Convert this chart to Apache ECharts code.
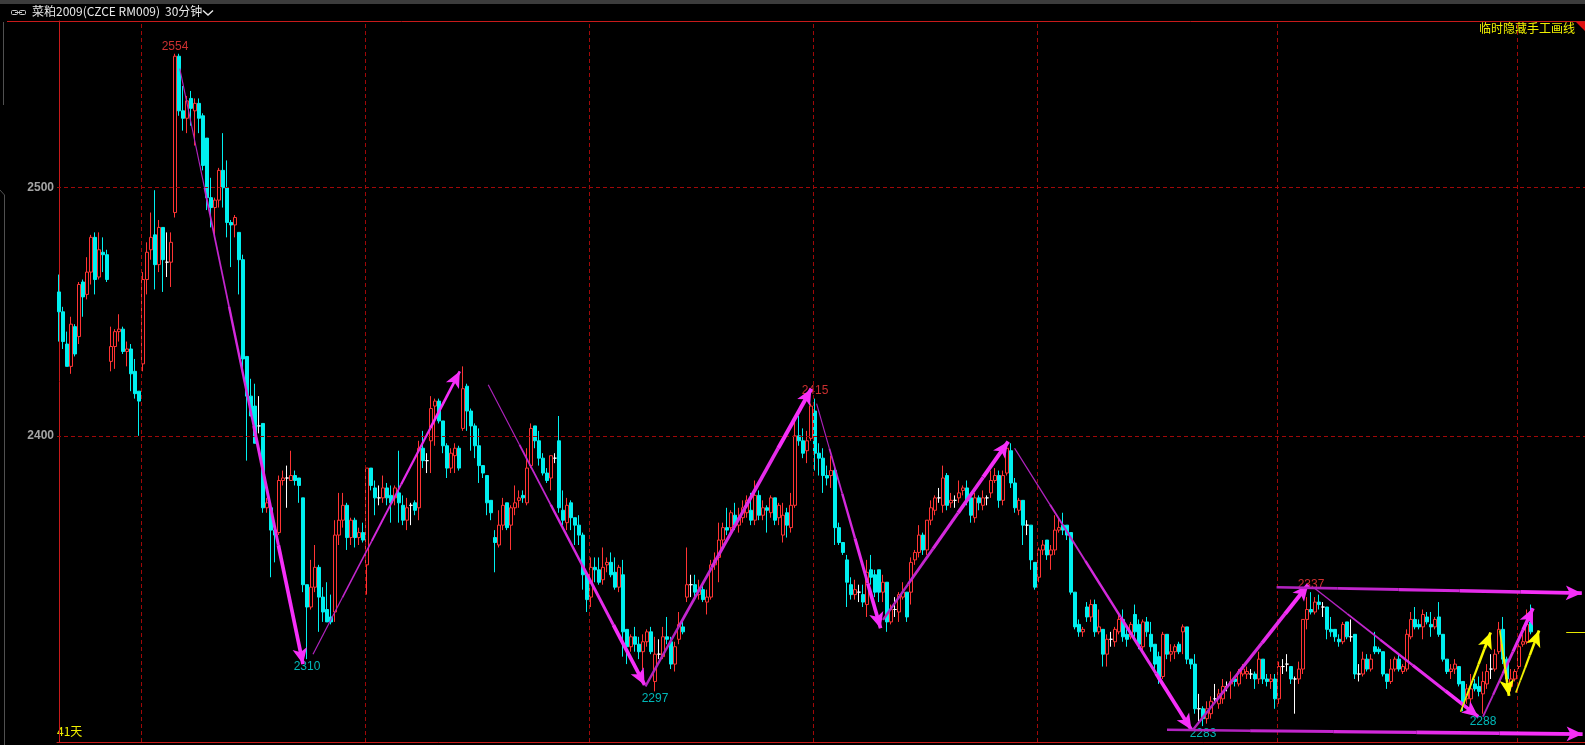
<!DOCTYPE html>
<html><head><meta charset="utf-8">
<script src="https://cdn.jsdelivr.net/npm/echarts@6/dist/echarts.min.js"></script>
<style>html,body{margin:0;padding:0;background:#000;overflow:hidden}#c{width:1585px;height:745px}</style>
</head><body><div id="c"></div>
<script>
// ---- candle values (30-minute bars, 菜粕2009) ----
const OPEN = [2458,2450,2437,2428,2444,2440,2462,2457,2466,2480,2464,2474,2473,2430,2436,2442,2443,2434,2435,2426,2418,2429,2463,2475,2481,2469,2484,2470,2470,2490,
2553,2531,2528,2536,2531,2534,2529,2520,2496,2492,2495,2507,2500,2486,2485,2482,2471,2432,2416,2412,2404,2405,2371,2371,2362,2361,2382,2383,2382,2384,
2383,2375,2340,2331,2339,2347,2335,2330,2327,2329,2360,2366,2372,2359,2366,2359,2361,2348,2387,2379,2375,2375,2379,2376,2375,2377,2372,2366,2372,2373,
2371,2395,2390,2398,2412,2414,2406,2396,2387,2392,2395,2403,2420,2410,2404,2396,2388,2384,2374,2359,2356,2364,2373,2364,2371,2374,2376,2373,2388,2404,
2398,2391,2385,2383,2391,2398,2370,2365,2373,2367,2364,2360,2344,2335,2347,2346,2342,2348,2349,2345,2339,2344,2322,2315,2319,2316,2313,2317,2321,2301,
2312,2311,2319,2317,2308,2318,2323,2335,2340,2340,2336,2338,2333,2335,2348,2351,2358,2363,2363,2368,2364,2367,2369,2370,2366,2376,2368,2371,2369,2375,
2367,2360,2369,2363,2372,2400,2398,2394,2399,2410,2393,2391,2384,2384,2386,2363,2357,2350,2340,2336,2337,2336,2332,2346,2344,2346,2337,2341,2325,2330,
2329,2335,2337,2337,2350,2353,2360,2354,2366,2370,2375,2372,2384,2373,2374,2375,2378,2379,2375,2367,2375,2372,2375,2377,2382,2384,2374,2385,2394,2381,
2370,2374,2364,2364,2349,2343,2354,2358,2352,2354,2362,2364,2364,2361,2337,2324,2321,2331,2327,2332,2321,2322,2312,2318,2317,2321,2326,2320,2319,2328,
2324,2315,2325,2320,2316,2311,2303,2320,2312,2313,2316,2321,2323,2310,2308,2290,2290,2286,2288,2294,2292,2294,2299,2300,2302,2300,2304,2304,2304,2304,
2302,2310,2302,2301,2302,2294,2307,2308,2307,2302,2302,2306,2326,2330,2329,2333,2331,2331,2322,2322,2318,2317,2325,2319,2320,2304,2304,2310,2306,2315,
2314,2313,2304,2301,2306,2310,2305,2306,2319,2326,2324,2323,2327,2324,2323,2327,2320,2310,2305,2306,2307,2301,2294,2294,2300,2299,2296,2300,2306,2306,
2313,2322,2310,2299,2302,2307,2316,2317,2325];
const CLOSE = [2450,2438,2428,2445,2433,2461,2456,2466,2480,2463,2475,2473,2463,2436,2442,2443,2434,2435,2425,2417,2414,2463,2474,2480,2469,2484,2471,2470,2478,2553,
2531,2528,2535,2532,2534,2528,2509,2496,2492,2495,2507,2500,2486,2485,2488,2471,2431,2416,2408,2397,2404,2371,2373,2362,2360,2382,2383,2383,2384,2382,
2380,2340,2331,2339,2347,2335,2329,2325,2325,2360,2366,2372,2359,2366,2359,2361,2358,2387,2380,2375,2375,2379,2375,2373,2379,2373,2366,2371,2372,2370,
2395,2390,2390,2411,2414,2406,2396,2387,2393,2395,2387,2419,2410,2404,2396,2388,2385,2373,2369,2357,2364,2372,2363,2371,2373,2375,2375,2387,2403,2398,
2391,2385,2382,2392,2391,2371,2366,2372,2367,2364,2360,2344,2334,2347,2346,2341,2347,2349,2344,2339,2347,2321,2315,2319,2316,2313,2317,2321,2313,2312,
2312,2319,2318,2308,2315,2324,2321,2340,2340,2337,2338,2334,2335,2348,2350,2358,2363,2362,2369,2364,2367,2371,2374,2366,2376,2368,2371,2370,2375,2366,
2372,2368,2364,2372,2400,2398,2393,2398,2412,2393,2391,2384,2383,2386,2363,2357,2353,2341,2336,2338,2337,2333,2345,2343,2337,2337,2341,2325,2330,2330,
2336,2337,2327,2349,2353,2360,2354,2366,2371,2375,2375,2383,2372,2374,2374,2377,2379,2374,2368,2375,2373,2375,2375,2382,2384,2374,2384,2395,2381,2371,
2374,2364,2364,2350,2339,2354,2356,2352,2354,2362,2363,2362,2360,2337,2323,2321,2322,2327,2332,2321,2323,2312,2318,2318,2322,2326,2319,2318,2324,2321,
2316,2325,2321,2315,2308,2302,2320,2312,2313,2315,2313,2323,2310,2308,2290,2290,2286,2290,2293,2294,2296,2299,2299,2301,2301,2305,2306,2305,2304,2302,
2310,2302,2301,2302,2294,2307,2307,2308,2302,2302,2306,2326,2330,2329,2333,2332,2331,2322,2321,2319,2317,2324,2319,2319,2304,2304,2310,2306,2310,2313,
2313,2304,2301,2306,2310,2306,2307,2320,2326,2323,2323,2328,2325,2323,2326,2320,2310,2305,2306,2308,2300,2292,2298,2298,2298,2297,2301,2305,2306,2312,
2322,2310,2302,2302,2305,2315,2317,2324,2321];
const LOW = [2438,2435,2428,2425,2432,2437,2448,2455,2461,2457,2463,2466,2462,2426,2427,2438,2433,2428,2418,2415,2400,2426,2457,2471,2459,2466,2458,2464,2460,2488,
2529,2523,2522,2525,2517,2522,2507,2491,2484,2481,2492,2492,2480,2468,2480,2457,2425,2390,2408,2397,2401,2369,2369,2343,2349,2360,2380,2371,2382,2380,
2373,2337,2310,2330,2337,2321,2325,2325,2324,2325,2356,2363,2354,2356,2355,2356,2357,2336,2378,2368,2372,2373,2372,2365,2372,2365,2364,2362,2364,2368,
2366,2387,2385,2385,2396,2405,2393,2383,2385,2385,2386,2402,2402,2394,2391,2381,2383,2368,2366,2345,2355,2362,2362,2354,2368,2371,2373,2372,2387,2395,
2388,2384,2381,2378,2389,2369,2364,2362,2362,2356,2356,2338,2329,2331,2341,2340,2340,2345,2343,2338,2337,2311,2308,2313,2313,2310,2306,2315,2312,2297,
2310,2310,2316,2306,2305,2316,2320,2333,2335,2335,2334,2333,2328,2334,2346,2341,2356,2360,2361,2362,2361,2365,2367,2364,2364,2366,2366,2361,2367,2364,
2364,2357,2359,2361,2371,2396,2391,2389,2398,2386,2384,2377,2380,2379,2356,2356,2352,2331,2334,2334,2333,2331,2327,2340,2335,2333,2333,2321,2324,2327,
2325,2334,2325,2332,2348,2351,2352,2352,2364,2368,2373,2369,2370,2371,2371,2373,2376,2372,2365,2365,2370,2370,2372,2375,2381,2371,2372,2384,2379,2369,
2368,2356,2360,2346,2338,2341,2352,2350,2346,2352,2361,2360,2358,2336,2322,2319,2319,2325,2325,2319,2320,2307,2307,2315,2315,2320,2317,2315,2318,2319,
2314,2313,2319,2313,2306,2300,2302,2310,2309,2310,2312,2312,2308,2306,2288,2285,2283,2284,2286,2292,2290,2292,2297,2294,2299,2299,2303,2302,2302,2298,
2300,2300,2299,2298,2290,2292,2304,2305,2300,2288,2300,2304,2322,2328,2328,2330,2327,2318,2319,2317,2315,2316,2318,2317,2302,2301,2303,2305,2305,2312,
2312,2303,2298,2300,2305,2305,2304,2305,2318,2322,2322,2318,2324,2319,2322,2319,2309,2304,2302,2304,2299,2289,2292,2292,2297,2295,2288,2298,2302,2305,
2312,2308,2298,2297,2301,2306,2315,2316,2320];
const HIGH = [2465,2452,2442,2448,2445,2462,2463,2472,2481,2482,2482,2480,2475,2444,2443,2449,2444,2438,2437,2431,2418,2466,2478,2490,2499,2487,2484,2482,2482,2554,
2554,2541,2537,2539,2536,2536,2530,2520,2504,2496,2508,2522,2511,2487,2489,2482,2473,2432,2423,2421,2416,2405,2375,2371,2363,2384,2386,2388,2394,2386,
2383,2375,2340,2350,2356,2348,2339,2341,2336,2366,2377,2377,2373,2367,2367,2363,2365,2387,2387,2382,2380,2384,2381,2380,2380,2394,2376,2375,2373,2374,
2398,2402,2393,2416,2415,2415,2406,2397,2395,2397,2396,2428,2421,2411,2405,2403,2388,2384,2374,2362,2370,2375,2373,2372,2380,2378,2378,2395,2405,2404,
2402,2393,2387,2392,2393,2408,2378,2375,2374,2367,2368,2361,2344,2351,2351,2351,2355,2351,2353,2351,2348,2350,2322,2320,2323,2319,2320,2322,2323,2319,
2318,2323,2327,2319,2317,2329,2325,2355,2344,2344,2342,2340,2338,2350,2353,2365,2365,2371,2370,2373,2371,2374,2376,2377,2382,2378,2374,2372,2376,2375,
2373,2373,2371,2377,2408,2408,2403,2402,2413,2415,2397,2395,2388,2392,2388,2365,2357,2352,2343,2342,2340,2340,2350,2352,2346,2346,2344,2341,2332,2335,
2337,2341,2337,2351,2354,2364,2361,2366,2374,2376,2379,2388,2385,2377,2376,2382,2380,2382,2377,2377,2376,2378,2376,2386,2387,2386,2386,2396,2397,2383,
2375,2374,2366,2364,2349,2355,2358,2358,2356,2368,2367,2369,2364,2361,2337,2326,2323,2333,2334,2334,2330,2322,2320,2321,2323,2329,2330,2322,2325,2332,
2326,2326,2327,2325,2316,2313,2321,2320,2316,2316,2317,2324,2323,2310,2312,2296,2291,2293,2295,2300,2298,2302,2301,2305,2303,2306,2308,2307,2306,2305,
2313,2310,2304,2304,2304,2309,2310,2312,2307,2303,2309,2326,2335,2337,2335,2336,2333,2331,2327,2322,2320,2325,2325,2326,2320,2308,2313,2312,2312,2321,
2315,2313,2304,2310,2311,2312,2308,2322,2329,2331,2326,2330,2329,2329,2327,2333,2320,2310,2308,2310,2307,2301,2300,2304,2302,2303,2305,2308,2312,2314,
2325,2327,2311,2306,2306,2316,2320,2330,2332];

const TOTAL_SLOTS = 382;                 // bar slots on the time axis (data + blank right margin)
const Y_LABELS = [2400, 2500];
const DAY_BREAKS = [20.5, 76.5, 132.5, 188.5, 244.5, 304.5, 364.5];
// marked extremes: bar index, price, kind
const EXT_IDX  = [29, 62, 149, 189, 286, 313, 356];
const EXT_VAL  = [2554, 2310, 2297, 2415, 2283, 2337, 2288];
const EXT_KIND = ['high','low','low','high','low','high','low'];
// hand-drawn lines: [barIndex1, price1, barIndex2, price2]
const PINK_LINES = [
  [30.2,2548, 61.0,2308], [63.5,2312, 100.2,2426], [107.3,2420.6, 146.4,2299.6],
  [146.6,2299, 188.1,2419], [189.4,2413, 205.4,2322.4], [206.0,2325.8, 237.3,2397.7],
  [238.9,2395, 283.1,2281.5], [283.5,2281.5, 312.3,2340], [313.9,2338.6, 354.8,2286.8],
  [356.0,2286.8, 368.5,2330.5], [304.4,2339, 380.7,2336.6], [277.0,2281.5, 380.9,2279.8]
];
const YELLOW_LINES = [
  [350.4,2288.8, 357.9,2320.7], [360.2,2321.6, 362.5,2295.2], [364.2,2296.5, 370.0,2321.5]
];

// ---- styles ----
const PINK_W = [[0.8,4],[1,2.8],[0.8,4],[2.2,4.2],[0.8,4],[2.2,4.2],[1,4],[2.2,4.2],[1,3.8],[1.6,3.8],[2.4,4],[2.4,4]];
const YELLOW_W = [[1.4,3],[1.4,3],[1.4,3]];

function mix(c1, c2, t) {
  const a = [1,3,5].map(i => parseInt(c1.substr(i,2),16));
  const b = [1,3,5].map(i => parseInt(c2.substr(i,2),16));
  return 'rgb(' + a.map((v,k)=>Math.round(v+(b[k]-v)*t)).join(',') + ')';
}
function taper(line, w, c1, c2) {
  const [x1,y1,x2,y2] = line; const n = 5; const out = [];
  for (let k = 0; k < n; k++) {
    const t0 = k/n, t1 = (k+1)/n, tm = (k+0.5)/n;
    const ls = { color: mix(c1, c2, tm), width: w[0] + (w[1]-w[0])*tm, type: 'solid', opacity: 1 };
    out.push([
      { coord: [x1+(x2-x1)*t0, y1+(y2-y1)*t0], symbol: 'none', lineStyle: ls },
      { coord: [x1+(x2-x1)*t1, y1+(y2-y1)*t1], symbol: k === n-1 ? 'arrow' : 'none', lineStyle: ls }
    ]);
  }
  return out;
}

const cats = OPEN.map((_, i) => 'b' + i);
for (let i = OPEN.length; i < TOTAL_SLOTS; i++) cats.push('b' + i);
const candles = OPEN.map((o, i) => [o, CLOSE[i], LOW[i], HIGH[i]]);
const lastClose = CLOSE[CLOSE.length - 1];

const RED = '#ff3434', CYAN = '#00f0f0', FRAME = '#c81a1a', GRIDC = '#a00808';
let pinkSegs = []; PINK_LINES.forEach((l, i) => pinkSegs = pinkSegs.concat(taper(l, PINK_W[i], '#a822b8', '#ff30ff')));
let yelSegs = []; YELLOW_LINES.forEach((l, i) => yelSegs = yelSegs.concat(taper(l, YELLOW_W[i], '#e8e800', '#ffff00')));

const chart = echarts.init(document.getElementById('c'));
chart.setOption({
  backgroundColor: '#000',
  animation: false,
  grid: { left: 57, right: 0, top: 21, bottom: 3, containLabel: false },
  xAxis: [
    { type: 'category', data: cats, boundaryGap: true,
      axisLine: { show: true, lineStyle: { color: FRAME, width: 1 } },
      axisTick: { show: false }, axisLabel: { show: false }, splitLine: { show: false } },
    { type: 'value', min: -0.5, max: TOTAL_SLOTS - 0.5, show: false }
  ],
  yAxis: [{ type: 'value', min: 2276.6, max: 2567.2, scale: true,
    axisLine: { show: true, lineStyle: { color: FRAME, width: 1 } },
    axisTick: { show: false },
    axisLabel: { show: true, customValues: Y_LABELS, color: '#a4a4a4', fontWeight: 'bold',
      fontFamily: 'Liberation Sans', fontSize: 12, margin: 3, formatter: v => String(Math.round(v)) },
    splitLine: { show: false } }],
  series: [
    { type: 'line', xAxisIndex: 1, yAxisIndex: 0, data: [], z: 1, silent: true,
      markLine: { silent: true, symbol: 'none', animation: false, label: { show: false },
        lineStyle: { color: GRIDC, type: [4, 3], width: 1 },
        emphasis: { disabled: true },
        data: Y_LABELS.map(v => ({ yAxis: v })).concat(DAY_BREAKS.map(v => ({ xAxis: v }))) } },
    { type: 'candlestick', xAxisIndex: 0, yAxisIndex: 0, data: candles, barWidth: 3, z: 2, silent: true,
      itemStyle: { color: '#000000', color0: CYAN, borderColor: RED, borderColor0: CYAN,
        borderColorDoji: '#ffffff', borderWidth: 1 } },
    { type: 'line', xAxisIndex: 1, yAxisIndex: 0, data: [], z: 3, silent: true,
      markLine: { silent: true, animation: false, symbolSize: [11, 16], label: { show: false },
        emphasis: { disabled: true }, data: pinkSegs.concat(yelSegs).concat([
          [{ coord: [376.8, lastClose], symbol: 'none', lineStyle: { color: '#e8e800', width: 1, type: 'solid' } },
           { coord: [381.5, lastClose], symbol: 'none', lineStyle: { color: '#e8e800', width: 1, type: 'solid' } }]
        ]) } },
    { type: 'scatter', xAxisIndex: 1, yAxisIndex: 0, z: 4, silent: true, symbolSize: 1,
      itemStyle: { color: 'rgba(0,0,0,0)' },
      data: EXT_IDX.map((x, i) => ({ value: [x, EXT_VAL[i]],
        label: { show: true, formatter: String(EXT_VAL[i]),
          position: EXT_KIND[i] === 'high' ? 'top' : 'bottom', distance: 1,
          color: EXT_KIND[i] === 'high' ? '#ff3c3c' : '#00e4e4',
          fontFamily: 'Liberation Sans', fontSize: 12 } })) }
  ],
  graphic: [
    { type: 'rect', left: 0, top: 0, shape: { width: 1585, height: 4 }, style: { fill: '#3c3c3c' }, silent: true },
    { type: 'line', shape: { x1: 7, y1: 21.5, x2: 1585, y2: 21.5 }, style: { stroke: FRAME, lineWidth: 1 }, silent: true },
    { type: 'line', shape: { x1: 3.5, y1: 22, x2: 3.5, y2: 105 }, style: { stroke: '#505050', lineWidth: 1 }, silent: true },
    { type: 'polyline', shape: { points: [[0, 190], [4.5, 195], [4.5, 745]] }, style: { stroke: '#505050', lineWidth: 1, fill: null }, silent: true },
    { type: 'polygon', shape: { points: [[1576, 22], [1585, 22], [1585, 31]] }, style: { fill: '#e01010' }, silent: true },
    { type: 'rect', shape: { x: 11.5, y: 10.5, width: 6, height: 4, r: 1 }, style: { stroke: '#c8c8c8', fill: null, lineWidth: 1 }, silent: true },
    { type: 'rect', shape: { x: 19.5, y: 10.5, width: 6, height: 4, r: 1 }, style: { stroke: '#c8c8c8', fill: null, lineWidth: 1 }, silent: true },
    { type: 'line', shape: { x1: 15, y1: 12.5, x2: 22, y2: 12.5 }, style: { stroke: '#c8c8c8', lineWidth: 1 }, silent: true },
    { type: 'text', left: 32, top: 5, style: { text: '菜粕2009(CZCE RM009)', fill: '#e8e8e8', font: '12px "Noto Sans CJK SC"' }, silent: true },
    { type: 'text', left: 165, top: 5, style: { text: '30分钟', fill: '#e8e8e8', font: '12px "Noto Sans CJK SC"' }, silent: true },
    { type: 'polyline', shape: { points: [[203, 10.5], [208, 15], [213, 10.5]] }, style: { stroke: '#e8e8e8', lineWidth: 1.4, fill: null }, silent: true },
    { type: 'text', right: 10, top: 22, style: { text: '临时隐藏手工画线', fill: '#f0f000', font: '12px "Noto Sans CJK SC"' }, silent: true },
    { type: 'text', left: 57, top: 725, style: { text: '41天', fill: '#f0f000', font: '12px "Noto Sans CJK SC"' }, silent: true }
  ]
});
</script></body></html>
